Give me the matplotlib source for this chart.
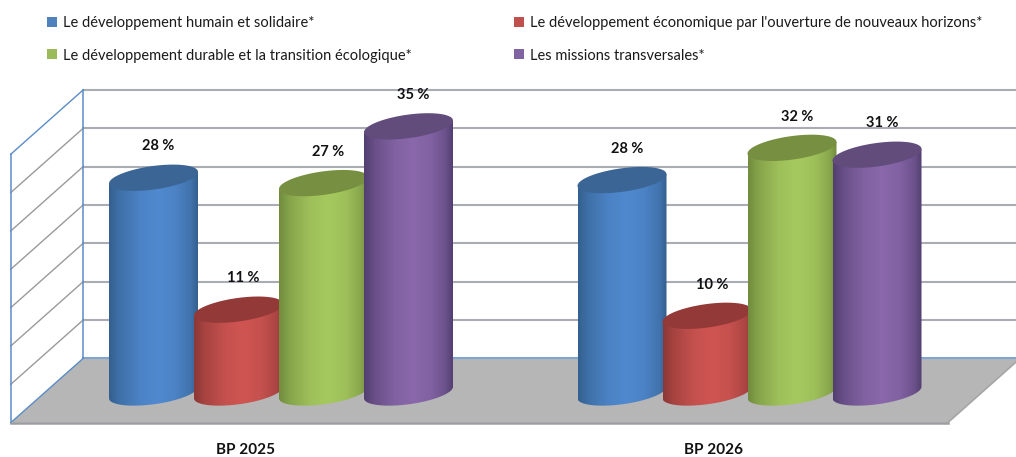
import matplotlib
matplotlib.use("Agg")
import matplotlib.pyplot as plt
import numpy as np
from matplotlib.colors import to_rgb
from matplotlib.patches import Patch, Polygon

plt.rcParams["font.family"] = ["Lato", "Open Sans", "DejaVu Sans"]

categories = ["BP 2025", "BP 2026"]
series_names = [
    "Le développement humain et solidaire*",
    "Le développement économique par l'ouverture de nouveaux horizons*",
    "Le développement durable et la transition écologique*",
    "Les missions transversales*",
]
humain = [28.0, 27.7]
economique = [10.8, 10.0]
durable = [27.3, 31.9]
transversales = [34.7, 31.0]
grid_values = [0, 5, 10, 15, 20, 25, 30, 35]

# dark side, light middle, top cap, legend
colors = [
    ("#34608f", "#5089cf", "#3a6594", "#4f81bd"),
    ("#8c3836", "#cf5552", "#933937", "#c0504d"),
    ("#718c3e", "#a6c95f", "#778f40", "#9bbb59"),
    ("#523f70", "#8a68ab", "#624c7c", "#8064a2"),
]

W, H = 1016, 457
px_x = 468.5  # pixels per category
px_y = 7.67   # pixels per percent
depth_x = 72.5 / px_x
depth_y = 64.4 / px_y

fig = plt.figure(figsize=(W / 100, H / 100), dpi=100)
ax = fig.add_axes([0, 0, 1, 1])
ylim = (-(H - 422.7) / px_y, 422.7 / px_y)
xlim = (-245 / px_x, (W - 245) / px_x)

# floor
x0, x1 = -0.5, 1.5
ax.add_patch(Polygon([(x0, 0), (x1, 0), (x1 + depth_x, depth_y), (x0 + depth_x, depth_y)],
                     facecolor="#b6b6b6", edgecolor="none", zorder=1))

# walls
for v in grid_values:
    c = "#7fa6d2" if v == 0 else "#a9adb3"
    c_side = "#5b8cc6" if v in (0, 35) else "#9a9a9a"
    ax.plot([x0 + depth_x, x1 + depth_x], [v + depth_y, v + depth_y], color=c, lw=1.5, zorder=2)
    ax.plot([x0, x0 + depth_x], [v, v + depth_y], color=c_side, lw=1.0, zorder=2)
ax.plot([x0, x0], [0, 35], color="#5b8cc6", lw=1.1, zorder=2)
ax.plot([x0 + depth_x, x0 + depth_x], [depth_y, 35 + depth_y], color="#5b8cc6", lw=1.1, zorder=2)
ax.plot([x0, x1], [0, 0], color="#9c9ea3", lw=1.8, zorder=3)
ax.plot([x1, x1 + depth_x], [0, depth_y], color="#a5a5a5", lw=1.2, zorder=3)


def draw_cylinder(xc, base, value, col, z):
    a = 44.5 / px_x
    b = 11.8 / px_y
    s = 5.8 / px_y
    t = np.linspace(np.pi, 2 * np.pi, 60)
    top = base + value
    low_x = xc + a * np.cos(t)
    low_y = base + s * np.cos(t) + b * np.sin(t)
    verts = [(xc - a, top - s)] + list(zip(low_x, low_y)) + [(xc + a, top + s)]
    body = Polygon(verts, closed=True, transform=ax.transData, facecolor="none", edgecolor="none")
    ax.add_patch(body)

    dark, light = np.array(to_rgb(col[0])), np.array(to_rgb(col[1]))
    u = np.linspace(0, 1, 200)
    w = np.interp(u, [0, 0.12, 0.35, 0.55, 0.75, 0.92, 1], [0, 0.4, 0.85, 1, 0.85, 0.45, 0])
    grad = (dark[None, :] * (1 - w[:, None]) + light[None, :] * w[:, None])[None, :, :]
    im = ax.imshow(grad, extent=(xc - a, xc + a, base - 3, top + 3), aspect="auto",
                   interpolation="bilinear", zorder=z)
    im.set_clip_path(body)

    t2 = np.linspace(0, 2 * np.pi, 120)
    ax.add_patch(Polygon(np.column_stack([xc + a * np.cos(t2),
                                          top + s * np.cos(t2) + b * np.sin(t2)]),
                         facecolor=col[2], edgecolor="none", zorder=z + 0.5))


shift_x = 36 / px_x
base_y = 30.2 / px_y
pitch = 85 / px_x
values = [humain, economique, durable, transversales]

for g in range(len(categories)):
    for i, vals in enumerate(values):
        xc = g + shift_x + (i - 1.5) * pitch
        draw_cylinder(xc, base_y, vals[g], colors[i], 5 + i)
        ax.annotate(f"{vals[g]:.0f} %", (xc, base_y + vals[g]), xytext=(3.6, 22.5),
                    textcoords="offset points", ha="center", va="center",
                    fontsize=10.5, fontweight="bold", color="#111111", zorder=20)

ax.set_xlim(xlim)
ax.set_ylim(ylim)
ax.set_xticks(range(len(categories)))
ax.set_xticklabels(categories, fontsize=11, fontweight="bold", color="#111111")
ax.tick_params(axis="x", length=0, pad=-10)
ax.set_yticks([])
for sp in ax.spines.values():
    sp.set_visible(False)

handles = [Patch(facecolor=c[3], edgecolor="none") for c in colors]
order = [0, 2, 1, 3]
ax.legend([handles[i] for i in order], [series_names[i] for i in order], ncol=2,
          loc="upper left", bbox_to_anchor=(0.030, 1.0), frameon=False, fontsize=10.55,
          handlelength=0.68, handleheight=0.68, handletextpad=0.4, labelspacing=1.24,
          columnspacing=7.0, borderaxespad=0.72, labelcolor="#1a1a1a")

fig.savefig("out.png", dpi=100)
